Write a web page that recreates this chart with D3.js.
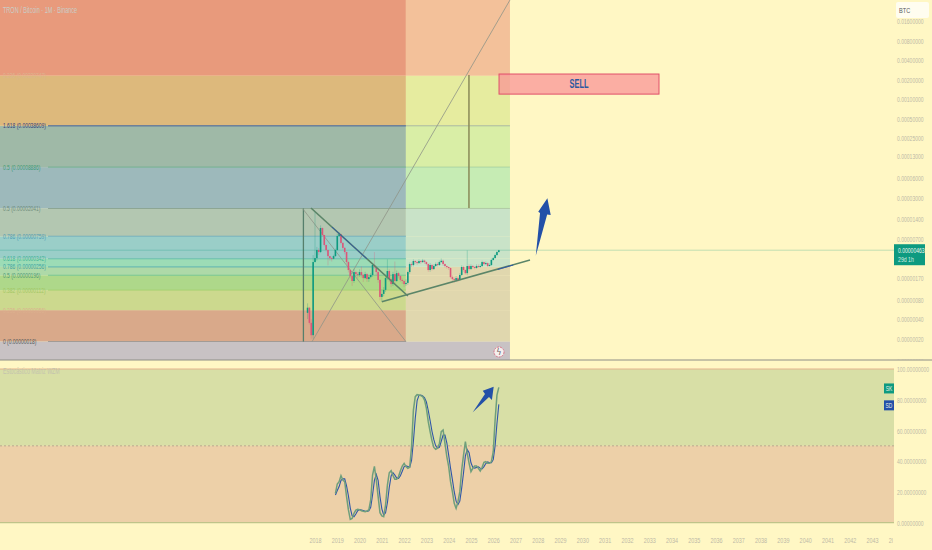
<!DOCTYPE html>
<html>
<head>
<meta charset="utf-8">
<script src="https://cdn.jsdelivr.net/npm/d3@7"></script>
<style>
  html, body { margin: 0; padding: 0; background: #fff7c4; }
  svg { display: block; font-family: "Liberation Sans", sans-serif; }
</style>
</head>
<body>
<svg id="chart" width="932" height="550"></svg>
<script>
// data {{{ //

// monthly candles in satoshi (1e-8 BTC), first one is Sep 2017
const firstMonth = 2017 + 8 / 12;
const firstOpen = 50;
const closes = [60, 35, 22.6, 304, 350, 467, 434, 1020, 795, 558, 467, 376, 350, 342, 376, 467, 767, 822, 600, 503, 434, 304, 229, 185, 155, 213, 198, 192, 213, 192, 172, 198, 166, 178, 192, 274, 255, 213, 161, 88, 98, 113, 172, 221, 166, 139, 198, 155, 205, 185, 161, 155, 139, 145, 213, 283, 274, 315, 304, 293, 315, 304, 320, 304, 283, 229, 274, 237, 264, 283, 274, 304, 318, 283, 264, 255, 246, 178, 166, 161, 172, 161, 192, 255, 229, 205, 264, 237, 264, 255, 246, 264, 260, 264, 304, 283, 293, 264, 274, 327, 350, 390, 434, 463];
const highs = [70, 62, 40, 390, 1800, 520, 500, 1120, 1040, 800, 560, 470, 375, 365, 395, 490, 830, 880, 830, 620, 520, 440, 320, 235, 190, 240, 225, 215, 235, 260, 200, 215, 205, 190, 205, 290, 434, 265, 225, 165, 115, 125, 180, 335, 235, 175, 215, 310, 225, 215, 190, 170, 160, 165, 225, 300, 300, 335, 325, 320, 335, 325, 340, 330, 310, 290, 295, 285, 280, 300, 300, 320, 345, 330, 290, 270, 260, 250, 190, 175, 185, 180, 205, 270, 265, 235, 460, 280, 280, 275, 265, 280, 280, 280, 320, 310, 310, 300, 290, 345, 365, 410, 450, 470];
const lows = [40, 33, 20, 20, 300, 320, 390, 420, 760, 530, 440, 270, 320, 310, 335, 365, 450, 740, 570, 470, 400, 280, 210, 170, 130, 145, 180, 170, 180, 175, 150, 165, 150, 150, 170, 180, 240, 190, 145, 78, 75, 90, 105, 160, 150, 125, 130, 140, 150, 170, 150, 140, 125, 130, 135, 200, 255, 260, 285, 275, 285, 285, 295, 285, 270, 215, 215, 225, 230, 255, 260, 265, 295, 265, 250, 240, 230, 170, 155, 145, 150, 150, 155, 185, 215, 195, 190, 225, 230, 240, 235, 240, 250, 250, 255, 270, 275, 255, 260, 265, 320, 345, 380, 425];
const lastPrice = 463;

// stochastic lines, first value is Dec 2018
const stochStart = 2018 + 11 / 12;
const stochK = [19.1, 25.2, 26.7, 30.6, 27.8, 26.7, 17, 8.3, 2.2, 2.8, 6.1, 8.2, 8.7, 8.5, 7.8, 7.4, 7.2, 7.6, 8.3, 14.8, 31, 36.7, 27.8, 17, 6.5, 4.4, 3.9, 11.5, 24.5, 32.5, 33.8, 30.8, 28.2, 28.2, 30, 33.8, 36.9, 38.6, 36.5, 35.4, 36, 49.5, 73.3, 82, 83.3, 83.1, 82.7, 82, 79.8, 74.4, 65.7, 59.2, 53.4, 49, 47.7, 48.4, 51.6, 59.2, 60.3, 51.6, 43, 36.5, 26.7, 20.2, 12.6, 9.3, 13.7, 20.2, 34.3, 44, 52.7, 45.1, 38.6, 33.2, 35.4, 36.9, 36.9, 35.4, 33.6, 36, 39.3, 39.7, 38.6, 38.6, 39.7, 46.2, 66.8, 83, 88];
const stochD = [18, 21, 23.5, 27.5, 28.5, 28.5, 24, 17.5, 9.5, 4.5, 3.8, 5.7, 7.8, 8.5, 8.3, 7.9, 7.4, 7.4, 7.7, 10, 18, 27.5, 31.5, 27.5, 17, 9, 5, 6.5, 13, 23, 30.5, 32.5, 31, 29, 28.8, 30.5, 33.5, 36.5, 37, 36.5, 36, 40.5, 53, 68, 79.5, 82.8, 83, 82.5, 81.2, 78.5, 73, 66.5, 59.5, 54, 50, 48.6, 49, 53, 57, 57, 52, 44, 35.5, 28, 20, 14, 11.8, 14, 22.5, 32.5, 43.5, 47.5, 45.5, 39, 36, 35.5, 36, 36.3, 35.5, 35, 36.5, 38.5, 39.5, 39, 39, 41, 50, 64.5, 77];

// fib levels, in the order of the picture
const fibValues = [18, 55, 112, 190, 256, 342, 759, 2041, 8886, 38609, 229000];
const fibLabels = ["0 (0.00000018)", "0.236 (0.00000056)", "0.382 (0.00000112)", "0.5 (0.00000196)", "0.786 (0.00000256)", "0.618 (0.00000342)", "0.786 (0.00000759)", "0.5 (0.00002041)", "0.5 (0.00008886)", "1.618 (0.00038609)", "0.236 (0.00229747)"];

// tick labels
const priceTicks = [0.016, 0.008, 0.004, 0.002, 0.001, 0.0005, 0.00025, 0.00013, 0.00006, 0.00003, 0.000014, 0.000007, 0.0000017, 0.0000008, 0.0000004, 0.0000002, 0.00000009];
const stochTicks = [0, 20, 40, 60, 80, 100];
const yearTicks = d3.range(2018, 2045);

// drawings as [year, satoshi]
const fibLeftYear = 2022.08;
const fibRightYear = 2026.75;
const anchorYear = 2017.48;
const grayLines = [
  [[2017.46, 2000], [2022.08, 18]],
  [[2017.87, 18], [2026.75, 3370000]],
];
const trendLines = [
  [[2017.82, 2075], [2022.17, 91]],
  [[2021, 74], [2027.65, 327]],
];
const blueParts = [
  [[2018.76, 1057], [2020.33, 341]],
  [[2026.2, 234], [2026.9, 274]],
];
const sellLine = [[2024.91, 235000], [2024.91, 2075]];
const sellBox = { from: [2026.26, 243000], to: [2033.44, 119000], text: "SELL" };
const priceArrow = [[2027.91, 381], [2028.1, 1740], [2028.02, 1820], [2028.43, 2940], [2028.58, 1620], [2028.42, 1650]];
const stochArrow = [[2025.08, 71.8], [2025.63, 83.7], [2025.53, 85.9], [2026.02, 88.5], [2025.94, 79.8], [2025.81, 81.8]];

// }}} data //

// colors {{{ //

// one per band from the bottom level up
const bandLeft = ["#d9a98a", "#ccd98e", "#aed88a", "#aed9a8", "#9cdcb6", "#9acec8", "#b3c7b1", "#9db9bb", "#9fb9a7", "#ddb97c", "#e89a7c"];
const bandRight = ["#e0d7ae", "#e0d7ae", "#e0d7ae", "#e0d7ae", "#c9e3c8", "#c9e3c8", "#c9e3c8", "#c6ecb4", "#d9eea6", "#e6ec9f", "#f3c19a"];
const fibColors = ["#8f8c8c", "#d6b290", "#a6cf6e", "#5fbf8e", "#55b0b0", "#4fb5a5", "#5aa7c0", "#7d9a87", "#6fb092", "#4a6a9c", "#dcb07f"];
const fibTextColors = ["#555c60", "#dcb08e", "#a3c765", "#4f9a78", "#3ea3a3", "#3fb396", "#4f9db5", "#6f8d7c", "#3f9b78", "#33407c", "#dcb58f"];
const green = "#0d9a80";
const red = "#dd5578";
const axisColor = "#bdb9a6";

// }}} colors //

const svg = d3.select("#chart");
const paneRight = 894;

// scales {{{ //

const x = d3.scaleLinear().domain([2018, 2043]).range([315, 872]);
const y = d3.scaleLog().domain([100000, 20000]).range([99, 99 + 19.5 * Math.log2(5)]);
const yStoch = d3.scaleLinear().domain([0, 100]).range([522.7, 369]);
const topValue = y.invert(0);
const leftYear = x.invert(0);

// }}} scales //

// make text narrow like in the screenshot
function squeeze(sel, ratio) {
  sel.each(function() {
    const tx = +this.getAttribute("x") || 0;
    d3.select(this)
      .attr("transform", "translate(" + tx + ",0) scale(" + ratio + ",1) translate(" + (-tx) + ",0)");
  });
}

const priceLine = d3.line().x(d => x(d[0])).y(d => y(d[1]));
const stochLine = d3.line().x(d => x(d[0])).y(d => yStoch(d[1]));

// bands {{{ //

const bands = fibValues.map((v, i) => ({
  low: v,
  high: i + 1 < fibValues.length ? fibValues[i + 1] : topValue,
  left: bandLeft[i],
  right: bandRight[i],
}));

const gBands = svg.append("g");
gBands.selectAll(".left").data(bands).enter().append("rect")
  .attr("x", x(leftYear))
  .attr("width", x(fibLeftYear) - x(leftYear))
  .attr("y", d => y(d.high))
  .attr("height", d => y(d.low) - y(d.high))
  .attr("fill", d => d.left);
gBands.selectAll(".right").data(bands).enter().append("rect")
  .attr("x", x(fibLeftYear))
  .attr("width", x(fibRightYear) - x(fibLeftYear))
  .attr("y", d => y(d.high))
  .attr("height", d => y(d.low) - y(d.high))
  .attr("fill", d => d.right);

// gray strip under the 0 level
gBands.append("rect")
  .attr("x", 0).attr("y", y(fibValues[0]))
  .attr("width", x(fibRightYear)).attr("height", 360 - y(fibValues[0]))
  .attr("fill", "#c8c2c4");

// }}} bands //

// fib lines and labels {{{ //

const gFib = svg.append("g");
gFib.selectAll("line.l").data(fibValues).enter().append("line")
  .attr("x1", 48).attr("x2", x(fibLeftYear))
  .attr("y1", d => y(d)).attr("y2", d => y(d))
  .attr("stroke", (d, i) => fibColors[i])
  .attr("stroke-opacity", (d, i) => (i == 1 || i == 10) ? 0 : 0.75)
  .attr("stroke-width", (d, i) => i == 9 ? 1.4 : 1.1);
gFib.selectAll("line.r").data(fibValues).enter().append("line")
  .attr("x1", x(fibLeftYear)).attr("x2", x(fibRightYear))
  .attr("y1", d => y(d)).attr("y2", d => y(d))
  .attr("stroke", (d, i) => fibColors[i])
  .attr("stroke-opacity", (d, i) => (i >= 7 && i <= 9) ? 0.4 : 0);
gFib.selectAll("text").data(fibLabels).enter().append("text")
  .attr("x", 3)
  .attr("y", (d, i) => y(fibValues[i]))
  .attr("dy", "0.35em")
  .attr("font-size", 7.2)
  .attr("fill", (d, i) => fibTextColors[i])
  .text(d => d)
  .call(squeeze, 0.685);

// }}} fib lines and labels //

// drawings below the candles {{{ //

svg.append("line")
  .attr("x1", x(anchorYear)).attr("x2", x(anchorYear))
  .attr("y1", y(fibValues[0])).attr("y2", y(fibValues[7]))
  .attr("stroke", "#567f6c").attr("stroke-width", 1.3);

svg.selectAll("path.gray").data(grayLines).enter().append("path")
  .attr("d", priceLine)
  .attr("fill", "none")
  .attr("stroke", "#8f9488")
  .attr("stroke-width", 0.8);

// last price line
svg.append("line")
  .attr("x1", 0).attr("x2", paneRight)
  .attr("y1", y(lastPrice)).attr("y2", y(lastPrice))
  .attr("stroke", green).attr("stroke-opacity", 0.25);

// }}} drawings below the candles //

// candles {{{ //

const candles = closes.map((c, i) => ({
  t: firstMonth + i / 12,
  o: i == 0 ? firstOpen : closes[i - 1],
  h: highs[i],
  l: lows[i],
  c: c,
}));
const up = d => d.c >= d.o;

const gCandles = svg.append("g");
gCandles.selectAll("line").data(candles).enter().append("line")
  .attr("x1", d => x(d.t)).attr("x2", d => x(d.t))
  .attr("y1", d => y(d.h)).attr("y2", d => y(d.l))
  .attr("stroke", d => up(d) ? green : red)
  .attr("stroke-opacity", 0.35)
  .attr("stroke-width", 0.8);
gCandles.selectAll("rect").data(candles).enter().append("rect")
  .attr("x", d => x(d.t) - 0.8)
  .attr("width", 1.6)
  .attr("y", d => y(Math.max(d.o, d.c)))
  .attr("height", d => Math.max(1, Math.abs(y(d.o) - y(d.c))))
  .attr("fill", d => up(d) ? green : red);

// }}} candles //

// trend lines, arrow and sell box {{{ //

svg.selectAll("path.trend").data(trendLines).enter().append("path")
  .attr("d", priceLine)
  .attr("fill", "none")
  .attr("stroke", "#5b8568")
  .attr("stroke-width", 1.6);
svg.selectAll("path.blue").data(blueParts).enter().append("path")
  .attr("d", priceLine)
  .attr("fill", "none")
  .attr("stroke", "#2f56a8")
  .attr("stroke-width", 1);

svg.append("path")
  .attr("d", priceLine(sellLine))
  .attr("stroke", "#8a8a58")
  .attr("stroke-width", 1.5);

svg.append("path")
  .attr("d", priceLine(priceArrow) + "Z")
  .attr("fill", "#2350a8");

const boxX = x(sellBox.from[0]), boxY = y(sellBox.from[1]);
const boxW = x(sellBox.to[0]) - boxX, boxH = y(sellBox.to[1]) - boxY;
svg.append("rect")
  .attr("x", boxX).attr("y", boxY)
  .attr("width", boxW).attr("height", boxH)
  .attr("fill", "#f98f96").attr("fill-opacity", 0.7)
  .attr("stroke", "#e0506a").attr("stroke-width", 1);
svg.append("text")
  .attr("x", boxX + boxW / 2).attr("y", boxY + boxH / 2)
  .attr("dy", "0.35em")
  .attr("text-anchor", "middle")
  .attr("font-size", 12)
  .attr("font-weight", "bold")
  .attr("fill", "#2c5aa0")
  .text(sellBox.text)
  .call(squeeze, 0.62);

// lightning badge
svg.append("circle")
  .attr("cx", 499).attr("cy", 352).attr("r", 5)
  .attr("fill", "#f4f0ee")
  .attr("stroke", "#d8607a").attr("stroke-width", 0.8).attr("stroke-dasharray", "2 1");
svg.append("text")
  .attr("x", 499).attr("y", 352).attr("dy", "0.35em")
  .attr("text-anchor", "middle")
  .attr("font-size", 8)
  .attr("font-family", "DejaVu Sans")
  .attr("fill", "#6a5a60")
  .text("ϟ");

svg.append("text")
  .attr("x", 3).attr("y", 10)
  .attr("dy", "0.35em")
  .attr("font-size", 8.5)
  .attr("fill", "#c9cdc6")
  .text("TRON / Bitcoin · 1M · Binance")
  .call(squeeze, 0.65);

// }}} trend lines, arrow and sell box //

// stochastic pane {{{ //

svg.append("line")
  .attr("x1", 0).attr("x2", 932).attr("y1", 360).attr("y2", 360)
  .attr("stroke", "#8e8e86").attr("stroke-width", 1);

svg.append("rect")
  .attr("x", 0).attr("width", paneRight)
  .attr("y", yStoch(100)).attr("height", yStoch(50) - yStoch(100))
  .attr("fill", "#d8dfa6");
svg.append("rect")
  .attr("x", 0).attr("width", paneRight)
  .attr("y", yStoch(50)).attr("height", yStoch(0) - yStoch(50))
  .attr("fill", "#edd0a8");

svg.append("line")
  .attr("x1", 0).attr("x2", paneRight)
  .attr("y1", yStoch(100)).attr("y2", yStoch(100))
  .attr("stroke", "#e3b48e").attr("stroke-width", 1.2);
svg.append("line")
  .attr("x1", 0).attr("x2", paneRight)
  .attr("y1", yStoch(0)).attr("y2", yStoch(0))
  .attr("stroke", "#bfc48a").attr("stroke-width", 1.2);
svg.append("line")
  .attr("x1", 0).attr("x2", paneRight)
  .attr("y1", yStoch(50)).attr("y2", yStoch(50))
  .attr("stroke", "#b09a88").attr("stroke-width", 0.8).attr("stroke-dasharray", "2 2");

svg.append("path")
  .attr("d", stochLine(stochD.map((v, i) => [stochStart + i / 12, v])))
  .attr("fill", "none")
  .attr("stroke", "#2f56a8")
  .attr("stroke-width", 1.1);
svg.append("path")
  .attr("d", stochLine(stochK.map((v, i) => [stochStart + i / 12, v])))
  .attr("fill", "none")
  .attr("stroke", "#6f9f7c")
  .attr("stroke-width", 1.5);

svg.append("path")
  .attr("d", stochLine(stochArrow) + "Z")
  .attr("fill", "#2350a8");

svg.append("text")
  .attr("x", 3).attr("y", 371)
  .attr("dy", "0.35em")
  .attr("font-size", 8.5)
  .attr("fill", "#c4c3ae")
  .text("Estocástico Matriz WZM")
  .call(squeeze, 0.62);

// }}} stochastic pane //

// axes {{{ //

svg.append("defs").append("clipPath").attr("id", "priceClip")
  .append("rect").attr("x", 0).attr("y", 0).attr("width", 932).attr("height", 360);
svg.select("defs").append("clipPath").attr("id", "timeClip")
  .append("rect").attr("x", 0).attr("y", 524).attr("width", 893).attr("height", 26);

function styleAxis(g, ratio) {
  g.select(".domain").remove();
  g.selectAll(".tick line").remove();
  g.selectAll(".tick text")
    .attr("fill", axisColor)
    .attr("font-family", "Liberation Sans, sans-serif")
    .attr("font-size", 8)
    .call(squeeze, ratio);
}

svg.append("g")
  .attr("clip-path", "url(#priceClip)")
  .append("g")
  .attr("transform", "translate(897,0)")
  .call(d3.axisRight(y).tickValues(priceTicks.map(d => d * 1e8)).tickSize(0).tickPadding(0)
    .tickFormat(d => (d / 1e8).toFixed(8)))
  .call(styleAxis, 0.63);

svg.append("g")
  .attr("transform", "translate(897,0)")
  .call(d3.axisRight(yStoch).tickValues(stochTicks).tickSize(0).tickPadding(0)
    .tickFormat(d => d3.format(".8f")(d)))
  .call(styleAxis, 0.63);

svg.append("g")
  .attr("clip-path", "url(#timeClip)")
  .append("g")
  .attr("transform", "translate(0,537)")
  .call(d3.axisBottom(x).tickValues(yearTicks).tickSize(0).tickPadding(0).tickFormat(d3.format("d")))
  .call(styleAxis, 0.68);

// }}} axes //

// right side tags {{{ //

svg.append("rect")
  .attr("x", 896).attr("y", 2).attr("width", 33).attr("height", 16).attr("rx", 2)
  .attr("fill", "#fffdf0");
svg.append("text")
  .attr("x", 899).attr("y", 10).attr("dy", "0.35em")
  .attr("font-size", 8).attr("fill", "#55585c")
  .text("BTC")
  .call(squeeze, 0.7);

svg.append("rect")
  .attr("x", 894).attr("y", y(lastPrice) - 6).attr("width", 31).attr("height", 21)
  .attr("fill", green);
svg.append("text")
  .attr("x", 898).attr("y", y(lastPrice)).attr("dy", "0.35em")
  .attr("font-size", 8).attr("fill", "#f2f6ee")
  .text("0.00000463")
  .call(squeeze, 0.63);
svg.append("text")
  .attr("x", 898).attr("y", y(lastPrice) + 9).attr("dy", "0.35em")
  .attr("font-size", 8).attr("fill", "#d8eee0")
  .text("29d 1h")
  .call(squeeze, 0.65);

const stochTags = [{ text: "SK", value: 88, fill: green }, { text: "SD", value: 77, fill: "#2350a8" }];
const tag = svg.selectAll("g.tag").data(stochTags).enter().append("g")
  .attr("transform", d => "translate(884," + (yStoch(d.value) - 4) + ")");
tag.append("rect")
  .attr("width", 10).attr("height", 10)
  .attr("fill", d => d.fill);
tag.append("text")
  .attr("x", 5).attr("y", 5).attr("dy", "0.35em")
  .attr("text-anchor", "middle")
  .attr("font-size", 7).attr("fill", "#eef2e4")
  .text(d => d.text)
  .call(squeeze, 0.7);

// }}} right side tags //
</script>
</body>
</html>
